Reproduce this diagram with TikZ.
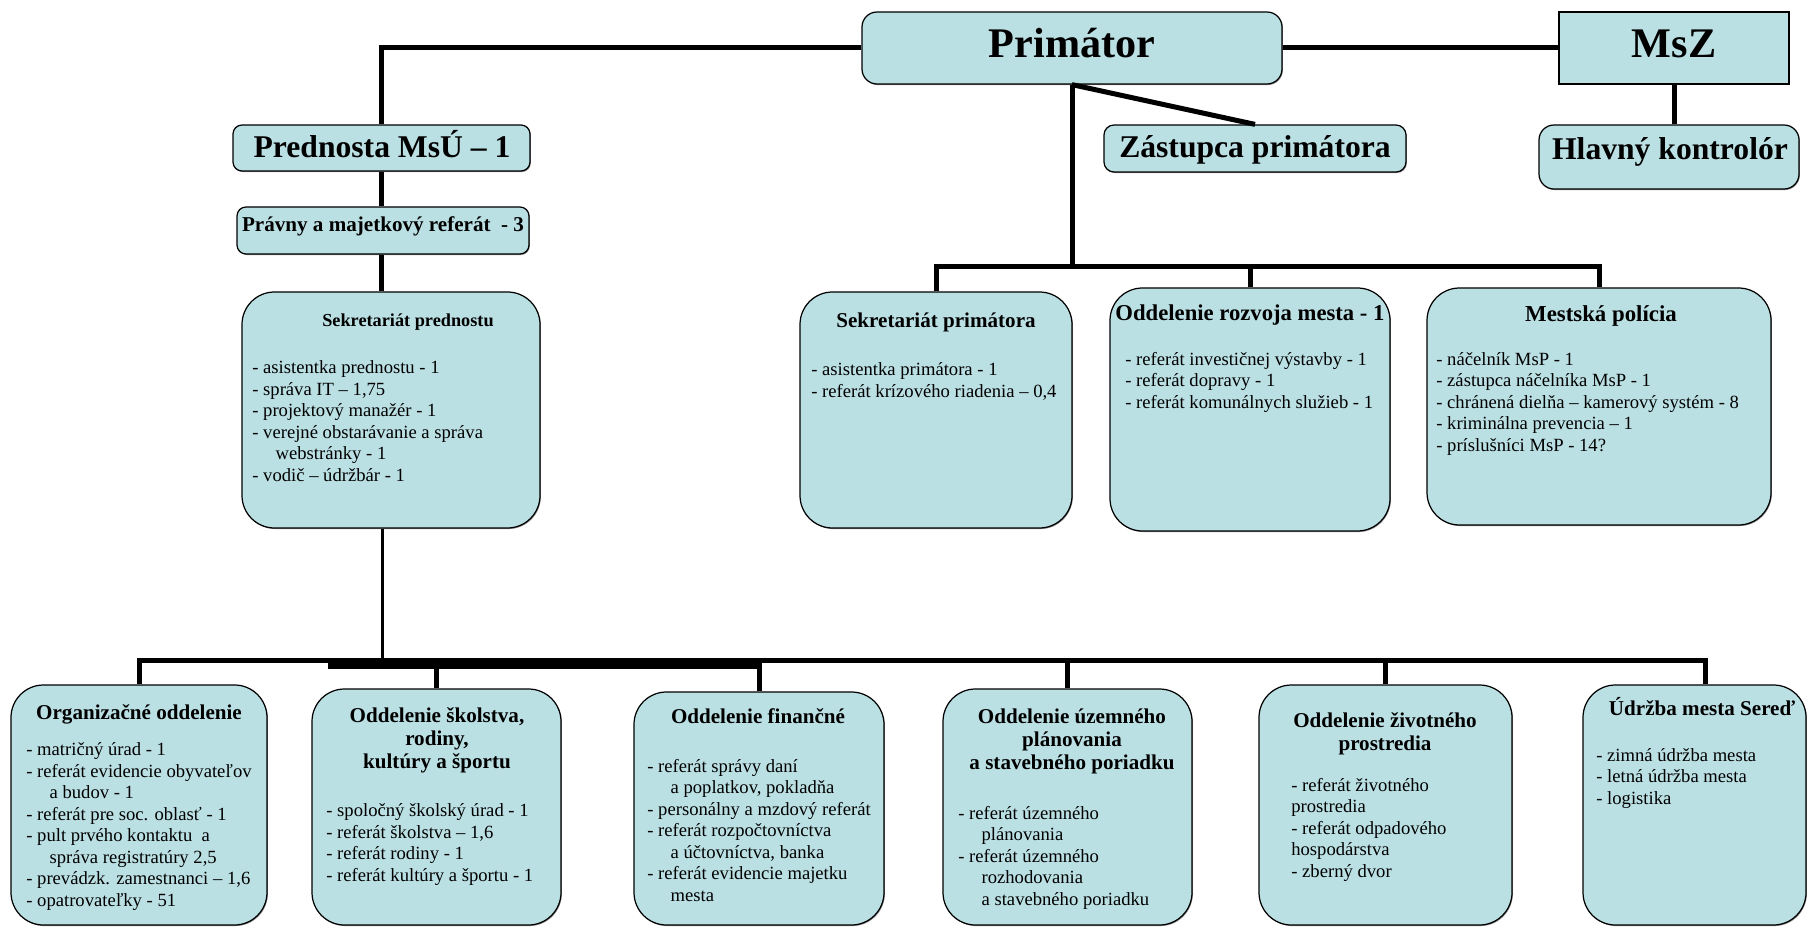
\documentclass[tikz,border=0pt]{standalone}
\usepackage{fontspec}
\setmainfont{Liberation Serif}
\usetikzlibrary{positioning,fit,shadows}
\definecolor{boxfill}{RGB}{187,224,228}
\tikzset{
  box/.style={draw=black, fill=boxfill, line width=0.7pt, inner sep=0pt,
    drop shadow={shadow xshift=0.5pt, shadow yshift=-0.6pt, fill=black, opacity=0.45}},
  bigbox/.style={box, rounded corners=6.5mm},
  link/.style={line width=1mm},
  thinlink/.style={line width=0.6mm},
  hdtop/.style={font=\bfseries\fontsize{24}{26}\selectfont, anchor=base, inner sep=0pt},
  hdmid/.style={font=\bfseries\fontsize{18}{20}\selectfont, anchor=base, inner sep=0pt},
  boxhead/.style={font=\bfseries\fontsize{12}{13}\selectfont, align=center, anchor=base, inner sep=0pt},
  boxlist/.style={font=\fontsize{10.6}{12.2}\selectfont, align=left, anchor=base west, inner sep=0pt},
}
\newcommand{\ind}{\hspace*{1.25em}}
\begin{document}
\begin{tikzpicture}[x=0.2mm, y=-0.2mm]
    \useasboundingbox (0,0) rectangle (1809,928);

    % Top level
    \node[box, rounded corners=3mm, fit={(862,12) (1282,84)}] (primator) {};
    \node[box, fit={(1559,12) (1789,84)}] (msz) {};
    \node[box, rounded corners=2mm, fit={(1104,125) (1406,172)}] (zastupca) {};
    \node[box, rounded corners=3mm, fit={(1539,125) (1799,189)}] (kontrolor) {};
    \node[box, rounded corners=1.8mm, fit={(233,125) (530,171)}] (prednosta) {};
    \node[box, rounded corners=1.8mm, fit={(237,207) (529,254)}] (pravny) {};

    \node[hdtop] at (1072,58) {Primátor};
    \node[hdtop] at (1674,58) {MsZ};
    \node[hdmid] at (1255,158) {Zástupca primátora};
    \node[hdmid] at (1670,160) {Hlavný kontrolór};
    \node[hdmid] at (382,158) {Prednosta MsÚ – 1};
    \node[boxhead] at (383,232) {Právny a majetkový referát\ \ - 3};

    % Middle row (multi-line texts sit on the baseline of their last line)
    \node[bigbox, fit={(242,292) (540,528)}] (sekpred) {};
    \node[bigbox, fit={(800,292) (1072,528)}] (sekprim) {};
    \node[bigbox, fit={(1110,288) (1390,531)}] (rozvoj) {};
    \node[bigbox, fit={(1427,288) (1771,525)}] (policia) {};

    \node[boxhead, font=\bfseries\fontsize{10.4}{12}\selectfont] at (408,327) {Sekretariát prednostu};
    \node[boxlist] at (252,481) {- asistentka prednostu - 1\\- správa IT – 1,75\\- projektový manažér - 1\\- verejné obstarávanie a správa\\\ind webstránky - 1\\- vodič – údržbár - 1};

    \node[boxhead] at (936,328) {Sekretariát primátora};
    \node[boxlist] at (811,397) {- asistentka primátora - 1\\- referát krízového riadenia – 0,4};

    \node[boxhead, font=\bfseries\fontsize{12.9}{13}\selectfont] at (1250,320) {Oddelenie rozvoja mesta - 1};
    \node[boxlist] at (1125,408) {- referát investičnej výstavby - 1\\- referát dopravy - 1\\- referát komunálnych služieb - 1};

    \node[boxhead, font=\bfseries\fontsize{13}{14}\selectfont] at (1601,321) {Mestská polícia};
    \node[boxlist] at (1436,451) {- náčelník MsP - 1\\- zástupca náčelníka MsP - 1\\- chránená dielňa – kamerový systém - 8\\- kriminálna prevencia – 1\\- príslušníci MsP - 14?};

    % Bottom row
    \node[bigbox, fit={(11,685) (267,925)}] (organiz) {};
    \node[bigbox, fit={(312,689) (561,925)}] (skolstvo) {};
    \node[bigbox, fit={(634,692) (884,925)}] (financne) {};
    \node[bigbox, fit={(943,689) (1192,925)}] (uzemne) {};
    \node[bigbox, fit={(1259,685) (1512,925)}] (zivotne) {};
    \node[bigbox, fit={(1583,685) (1806,925)}] (udrzba) {};

    \node[boxhead] at (139,719) {Organizačné oddelenie};
    \node[boxlist] at (26,906) {- matričný úrad - 1\\- referát evidencie obyvateľov\\\ind a budov - 1\\- referát pre soc. oblasť - 1\\- pult prvého kontaktu\ \ a\\\ind správa registratúry 2,5\\- prevádzk. zamestnanci – 1,6\\- opatrovateľky - 51};

    \node[boxhead] at (437,768) {Oddelenie školstva,\\rodiny,\\kultúry a športu};
    \node[boxlist] at (326,881) {- spoločný školský úrad - 1\\- referát školstva – 1,6\\- referát rodiny - 1\\- referát kultúry a športu - 1};

    \node[boxhead] at (758,723) {Oddelenie finančné};
    \node[boxlist] at (647,901) {- referát správy daní\\\ind a poplatkov, pokladňa\\- personálny a mzdový referát\\- referát rozpočtovníctva\\\ind a účtovníctva, banka\\- referát evidencie majetku\\\ind mesta};

    \node[boxhead] at (1072,769) {Oddelenie územného\\plánovania\\a stavebného poriadku};
    \node[boxlist] at (958,905) {- referát územného\\\ind plánovania\\- referát územného\\\ind rozhodovania\\\ind a stavebného poriadku};

    \node[boxhead] at (1385,750) {Oddelenie životného\\prostredia};
    \node[boxlist] at (1291,877) {- referát životného\\prostredia\\- referát odpadového\\hospodárstva\\- zberný dvor};

    \node[boxhead] at (1702,715) {Údržba mesta Sereď};
    \node[boxlist] at (1596,804) {- zimná údržba mesta\\- letná údržba mesta\\- logistika};

    % Connectors
    \coordinate (rbar) at (1072,267);
    \coordinate (lbar) at (382,660);
    \coordinate (rend) at (1705,660);
    \coordinate (tk) at (328,664);

    \draw[link] (primator.west) -| (prednosta.north);
    \draw[link] (primator.east) -- (msz.west);
    \draw[link] (msz.south) -- (msz.south |- kontrolor.north);
    \draw[link] (primator.south) -- (zastupca.north);
    \draw[link] (prednosta.south) -- (prednosta.south |- pravny.north);
    \draw[link] (prednosta.south |- pravny.south) -- (prednosta.south |- sekpred.north);

    \draw[link] (primator.south) -- (rbar);
    \draw[link] (sekprim.north) |- (policia.north |- rbar) -- (policia.north);
    \draw[link] (rozvoj.north |- rbar) -- (rozvoj.north);

    \draw[thinlink] (sekpred.south -| lbar) -- (lbar);
    \draw[link] (organiz.north) |- (rend) -- (rend |- udrzba.north);
    \draw[line width=1.8mm] (tk) -- (financne.north |- tk);
    \foreach \n in {skolstvo,financne,uzemne,zivotne}
        \draw[link] (\n.north |- lbar) -- (\n.north);
\end{tikzpicture}
\end{document}
